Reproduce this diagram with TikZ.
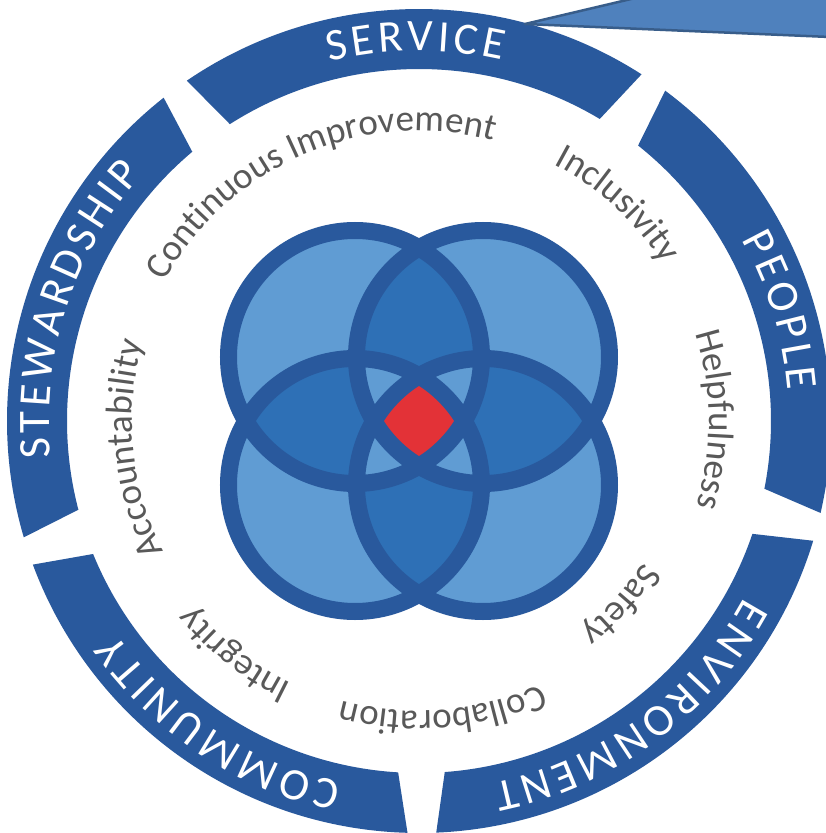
\documentclass[tikz,border=0pt]{standalone}
\usepackage{fontspec}
\setmainfont{Carlito}
\usetikzlibrary{decorations.text}
\definecolor{ringblue}{RGB}{41,89,157}
\definecolor{petal}{RGB}{96,156,211}
\definecolor{lens}{RGB}{46,112,182}
\definecolor{heart}{RGB}{227,50,55}
\definecolor{valgray}{RGB}{89,89,89}
\definecolor{callfill}{RGB}{79,129,189}
\definecolor{calledge}{RGB}{56,93,138}
\def\ringfont{\fontsize{45}{50}\selectfont\color{white}}
\def\valfont{\fontsize{37}{42}\selectfont\color{valgray}}
\def\ringseg(#1:#2){\fill[color=ringblue] ({#1+2}:412pt) arc[start angle={#1+2}, end angle={#2-2}, radius=412pt] -- ({#2-3.8}:352pt) arc[start angle={#2-3.8}, end angle={#1+3.8}, radius=352pt] -- cycle;}
\def\arclabel(#1:#2)#3{\path[decorate, decoration={text along path, text align=center, text={#3}}] ({#1+55}:#2) arc[start angle={#1+55}, end angle={#1-55}, radius=#2];}

\begin{document}
\begin{tikzpicture}[x=1pt,y=1pt]
		%%%%% START %%%%%
		\useasboundingbox (-419,-412) rectangle (407,421);
		\clip (-419,-412) rectangle (407,421);
		\fill[white] (-419,-412) rectangle (407,421);
		
		% outer ring
		\ringseg(55.3:126.3)
		\ringseg(-14.9:55.3)
		\ringseg(-89.6:-14.9)
		\ringseg(-161.6:-89.6)
		\ringseg(126.3:198.4)
		
		\arclabel(90.5:370pt){|\ringfont|S{\kern4pt}E{\kern4pt}R{\kern4pt}V{\kern4pt}I{\kern4pt}C{\kern4pt}E}
		\arclabel(17:370pt){|\ringfont|P{\kern4pt}E{\kern4pt}O{\kern4pt}P{\kern4pt}L{\kern4pt}E}
		\arclabel(-53.5:370pt){|\ringfont|E{\kern4pt}N{\kern4pt}V{\kern4pt}I{\kern4pt}R{\kern4pt}O{\kern4pt}N{\kern4pt}M{\kern4pt}E{\kern4pt}N{\kern4pt}T}
		\arclabel(-123.5:370pt){|\ringfont|C{\kern4pt}O{\kern4pt}M{\kern4pt}M{\kern4pt}U{\kern4pt}N{\kern4pt}I{\kern4pt}T{\kern4pt}Y}
		\arclabel(162:370pt){|\ringfont|S{\kern4pt}T{\kern4pt}E{\kern4pt}W{\kern4pt}A{\kern4pt}R{\kern4pt}D{\kern4pt}S{\kern4pt}H{\kern4pt}I{\kern4pt}P}
		
		% values
		\arclabel(113.2:290pt){|\valfont|Continuous Improvement}
		\arclabel(47.5:290pt){|\valfont|Inclusivity}
		\arclabel(0.3:290pt){|\valfont|Helpfulness}
		\arclabel(-42.3:265pt){|\valfont|Safety}
		\arclabel(-85.3:290pt){|\valfont|Collaboration}
		\arclabel(-128.3:292pt){|\valfont|Integrity}
		\arclabel(185.6:287pt){|\valfont|Accountability}
		
		% four circles
		\coordinate (tl) at (-64,64);
		\coordinate (tr) at (64,64);
		\coordinate (bl) at (-64,-64);
		\coordinate (br) at (64,-64);
		
		\fill[petal] (tl) circle[radius=126.5pt] (tr) circle[radius=126.5pt] (bl) circle[radius=126.5pt] (br) circle[radius=126.5pt];
		\begin{scope}
			\clip (tl) circle[radius=126.5pt];
			\fill[lens] (tr) circle[radius=126.5pt] (bl) circle[radius=126.5pt];
		\end{scope}
		\begin{scope}
			\clip (br) circle[radius=126.5pt];
			\fill[lens] (tr) circle[radius=126.5pt] (bl) circle[radius=126.5pt];
		\end{scope}
		\begin{scope}
			\clip (tl) circle[radius=126.5pt];
			\clip (tr) circle[radius=126.5pt];
			\fill[petal] (bl) circle[radius=126.5pt] (br) circle[radius=126.5pt];
		\end{scope}
		\begin{scope}
			\clip (bl) circle[radius=126.5pt];
			\clip (br) circle[radius=126.5pt];
			\fill[petal] (tl) circle[radius=126.5pt] (tr) circle[radius=126.5pt];
		\end{scope}
		\begin{scope}
			\clip (tl) circle[radius=126.5pt];
			\clip (tr) circle[radius=126.5pt];
			\clip (bl) circle[radius=126.5pt];
			\fill[heart] (br) circle[radius=126.5pt];
		\end{scope}
		\draw[line width=17pt, color=ringblue] (tl) circle[radius=126.5pt] (tr) circle[radius=126.5pt] (bl) circle[radius=126.5pt] (br) circle[radius=126.5pt];
		
		% callout
		\draw[fill=callfill, draw=calledge, line width=2.5pt, line join=round] (106,397) -- (246,430) -- (420,430) -- (420,383.6) -- cycle;
		
		%%%%% END %%%%%
	\end{tikzpicture}
\end{document}
